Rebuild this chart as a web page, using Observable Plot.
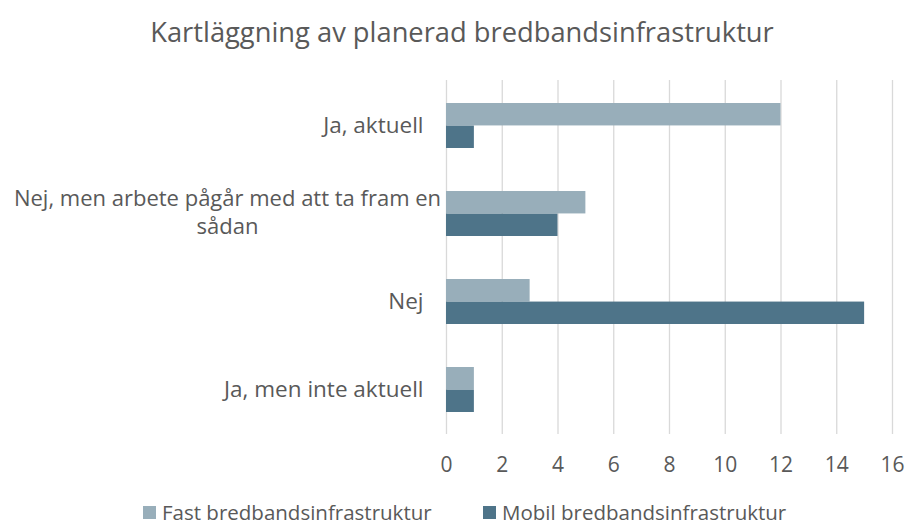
<!DOCTYPE html>
<html><head><meta charset="utf-8">
<script src="https://cdn.jsdelivr.net/npm/d3@7"></script>
<script src="https://cdn.jsdelivr.net/npm/@observablehq/plot@0.6"></script>
<style>
body{margin:0;background:#fff;font-family:"Open Sans",sans-serif;color:#595959}
#wrap{position:relative;width:905px;height:526px;overflow:hidden}
#title{position:absolute;top:14px;left:0;width:924px;text-align:center;font-size:27.3px;line-height:36px;white-space:nowrap}
#chart{position:absolute;top:0;left:0}
#legend{position:absolute;top:500px;left:0;width:905px;height:24px;font-size:20.5px;white-space:nowrap;line-height:24px}
.item{position:absolute;top:0;display:flex;align-items:center}
.sw{width:13px;height:13px;margin-right:6px;display:inline-block}
</style></head>
<body><div id="wrap"><div id="chart"></div><div id="title">Kartläggning av planerad bredbandsinfrastruktur</div><div id="legend"></div></div>
<script>
const categories = ["Ja, aktuell", "Nej, men arbete pågår med att ta fram en sådan", "Nej", "Ja, men inte aktuell"];
const wrappedLabels = {"Nej, men arbete pågår med att ta fram en sådan": "Nej, men arbete pågår med att ta fram en\nsådan"};
const fast = [12, 5, 3, 1];
const mobil = [1, 4, 15, 1];
const series = ["Fast bredbandsinfrastruktur", "Mobil bredbandsinfrastruktur"];
const colors = ["#98aeba", "#4e7489"];
const xTicks = [0, 2, 4, 6, 8, 10, 12, 14, 16];

const W = 905, H = 490, mT = 80, mB = 56, mL = 446, mR = 13;
const padIn = 0.49;
const half = ((H - mT - mB) / categories.length) * (1 - padIn) / 2;

const fastData = categories.map((c, i) => ({category: c, value: fast[i]}));
const mobilData = categories.map((c, i) => ({category: c, value: mobil[i]}));
const plain = categories.filter(c => !wrappedLabels[c]);
const wrapped = categories.filter(c => wrappedLabels[c]);

const chart = Plot.plot({
  width: W, height: H,
  marginTop: mT, marginBottom: mB, marginLeft: mL, marginRight: mR,
  style: {fontFamily: "Open Sans, sans-serif", fontSize: "21px", color: "#595959", background: "transparent"},
  x: {domain: [0, 16], ticks: xTicks, label: null},
  y: {domain: categories, paddingInner: padIn, paddingOuter: padIn / 2, axis: null},
  marks: [
    Plot.ruleX(xTicks, {x: d => d, stroke: "#d9d9d9", strokeWidth: 1.3}),
    Plot.barX(fastData, {x: "value", y: "category", fill: colors[0], insetBottom: half}),
    Plot.barX(mobilData, {x: "value", y: "category", fill: colors[1], insetTop: half}),
    Plot.axisX({ticks: xTicks, tickSize: 0, tickPadding: 23, label: null, fill: "#595959", fontSize: 21}),
    Plot.text(plain, {y: d => d, text: d => d, frameAnchor: "left", textAnchor: "end", dx: -23, fill: "#595959", fontSize: 22.5}),
    Plot.text(wrapped, {y: d => d, text: d => wrappedLabels[d], frameAnchor: "left", textAnchor: "middle", dx: -219, dy: -3, lineHeight: 1.25, fill: "#595959", fontSize: 22})
  ]
});
document.getElementById("chart").appendChild(chart);

const lg = document.getElementById("legend");
const legendLeft = [143, 483];
series.forEach((s, i) => {
  const it = document.createElement("span");
  it.className = "item";
  it.style.left = legendLeft[i] + "px";
  const sw = document.createElement("span");
  sw.className = "sw"; sw.style.background = colors[i];
  it.appendChild(sw);
  it.appendChild(document.createTextNode(s));
  lg.appendChild(it);
});
</script></body></html>
